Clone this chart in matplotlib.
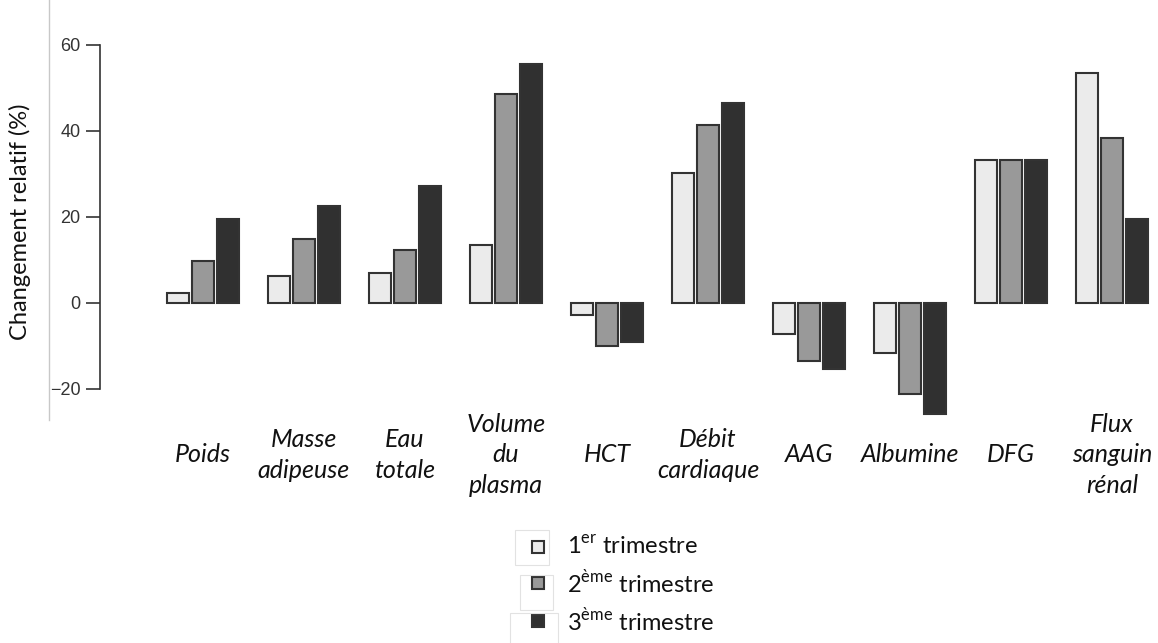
import matplotlib
matplotlib.use("Agg")
import matplotlib.pyplot as plt
import matplotlib.transforms as mtransforms
import numpy as np
from matplotlib.patches import Rectangle

# categories (x labels) and values, in %
categories = ["Poids", "Masse\nadipeuse", "Eau\ntotale", "Volume\ndu\nplasma", "HCT",
              "Débit\ncardiaque", "AAG", "Albumine", "DFG", "Flux\nsanguin\nrénal"]
trim1 = [2.3, 6.3, 7.0, 13.5, -2.8, 30.2, -7.3, -11.6, 33.3, 53.3]
trim2 = [9.8, 14.9, 12.3, 48.6, -10.0, 41.4, -13.5, -21.2, 33.3, 38.4]
trim3 = [19.5, 22.6, 27.2, 55.6, -9.0, 46.5, -15.3, -25.8, 33.3, 19.5]
series_labels = ["1$^{\\mathregular{er}}$ trimestre",
                 "2$^{\\mathregular{ème}}$ trimestre",
                 "3$^{\\mathregular{ème}}$ trimestre"]
yticks = [-20, 0, 20, 40, 60]

colors = ["#ebebeb", "#999999", "#303030"]
edge = "#333333"

plt.rcParams["mathtext.fontset"] = "custom"
plt.rcParams["mathtext.rm"] = "Lato"

fig = plt.figure(figsize=(11.58, 6.43), dpi=100)
W, H = 1158, 643
ax = fig.add_axes([100 / W, 1 - 419 / H, 1058 / W, 383 / H])

x = np.arange(len(categories))
step = 0.25
width = 0.22
for k, vals in enumerate([trim1, trim2, trim3]):
    ax.bar(x + (k - 1) * step, vals, width, color=colors[k], edgecolor=edge, linewidth=1.5)

ax.set_xlim((100 - 203) / 101, (1158 - 203) / 101)
ax.set_ylim(-27, 62)
for s in ["top", "right", "bottom"]:
    ax.spines[s].set_visible(False)
ax.spines["left"].set_bounds(-20, 60)
ax.spines["left"].set_color("#333333")
ax.spines["left"].set_linewidth(1.2)
ax.set_yticks(yticks)
ax.tick_params(axis="y", length=10, width=1.2, color="#333333", pad=4,
               labelsize=13, labelcolor="#333333")
for lab in ax.get_yticklabels():
    lab.set_fontfamily("Liberation Sans")
ax.set_xticks([])

# x labels
trans = mtransforms.blended_transform_factory(ax.transData, fig.transFigure)
for i, name in enumerate(categories):
    ax.text(i, 1 - 455 / H, name, transform=trans, ha="center", va="center",
            multialignment="center", fontsize=18, fontstyle="italic", family="Lato",
            linespacing=1.4, color="#111111")

fig.text(20 / W, 1 - 222 / H, "Changement relatif (%)", rotation=90, ha="center",
         va="center", fontsize=17, family="Lato", color="#111111")

# faint vertical line at left
fig.add_artist(plt.Line2D([49 / W, 49 / W], [1 - 420 / H, 1], color="#c8c8c8", linewidth=1))

# legend
leg_y = [547, 583, 621]
for k in range(3):
    fig.add_artist(Rectangle(((538 - 6) / W, 1 - (leg_y[k] + 6) / H), 12 / W, 12 / H,
                             facecolor=colors[k], edgecolor=edge, linewidth=1.5))
    fig.text(567 / W, 1 - leg_y[k] / H, series_labels[k], ha="left", va="center",
             fontsize=17, family="Lato", color="#111111")
# faint frames around legend keys
for (x0, y0, x1, y1) in [(515, 530, 549, 565), (520, 575, 553, 610), (510, 613, 558, 660)]:
    fig.add_artist(Rectangle((x0 / W, 1 - y1 / H), (x1 - x0) / W, (y1 - y0) / H,
                             facecolor="none", edgecolor="#e2e2e2", linewidth=0.8))

fig.savefig("out.png", dpi=100)
